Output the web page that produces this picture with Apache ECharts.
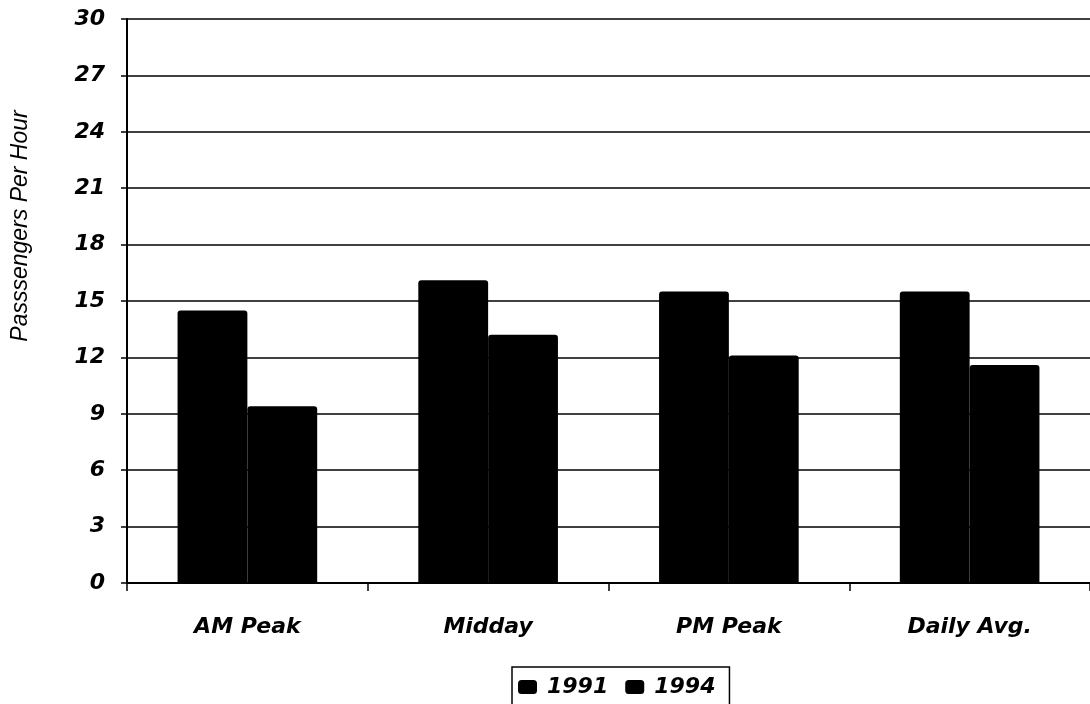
<!DOCTYPE html>
<html><head><meta charset="utf-8">
<script src="https://cdn.jsdelivr.net/npm/echarts@6/dist/echarts.min.js"></script>
<style>html,body{margin:0;padding:0;background:#fff}#c{width:1090px;height:704px}</style>
</head><body><div id="c"></div>
<script>
const categories = ['AM Peak', 'Midday', 'PM Peak', 'Daily Avg.'];
const seriesNames = ['1991', '1994'];
const values1991 = [14.5, 16.1, 15.5, 15.5];
const values1994 = [9.4, 13.2, 12.1, 11.6];
const yAxisTitle = 'Passsengers Per Hour';

const boldFont = '"DejaVu Sans", Verdana, sans-serif';
const nameFont = '"Liberation Sans", Arial, sans-serif';
const chart = echarts.init(document.getElementById('c'));
chart.setOption({
  animation: false,
  backgroundColor: '#fff',
  grid: { left: 127, right: -7, top: 19, bottom: 121, containLabel: false },
  legend: {
    data: seriesNames,
    top: 667,
    left: 512,
    icon: 'roundRect',
    itemWidth: 19, itemHeight: 14, itemGap: 17,
    borderColor: '#000', borderWidth: 1.5,
    padding: [9, 14, 9, 6],
    textStyle: { fontFamily: boldFont, fontSize: 22, fontWeight: 'bold', fontStyle: 'italic', color: '#000', padding: [0, 0, 0, 5] }
  },
  xAxis: {
    type: 'category', data: categories,
    axisLine: { lineStyle: { color: '#000', width: 2 } },
    axisTick: { show: true, length: 8, lineStyle: { color: '#000', width: 1.5 } },
    axisLabel: { fontFamily: boldFont, fontSize: 22, fontWeight: 'bold', fontStyle: 'italic', color: '#000', margin: 33 }
  },
  yAxis: {
    type: 'value', min: 0, max: 30, interval: 3,
    name: yAxisTitle, nameLocation: 'middle', nameGap: 95, nameRotate: 90,
    nameTextStyle: { fontFamily: nameFont, fontSize: 23, fontStyle: 'italic', color: '#000', padding: [0, 0, 0, 150] },
    axisLine: { show: true, lineStyle: { color: '#000', width: 2 } },
    axisTick: { show: true, length: 6, lineStyle: { color: '#000', width: 1.5 } },
    axisLabel: { fontFamily: boldFont, fontSize: 22, fontWeight: 'bold', fontStyle: 'italic', color: '#000', margin: 22 },
    splitLine: { show: true, lineStyle: { color: '#000', width: 1.5 } }
  },
  series: [
    { name: seriesNames[0], type: 'bar', data: values1991, barGap: '0%', barCategoryGap: '42%',
      itemStyle: { color: '#000', borderRadius: [3, 3, 0, 0] } },
    { name: seriesNames[1], type: 'bar', data: values1994, barGap: '0%', barCategoryGap: '42%',
      itemStyle: { color: '#000', borderRadius: [3, 3, 0, 0] } }
  ]
});
</script></body></html>
